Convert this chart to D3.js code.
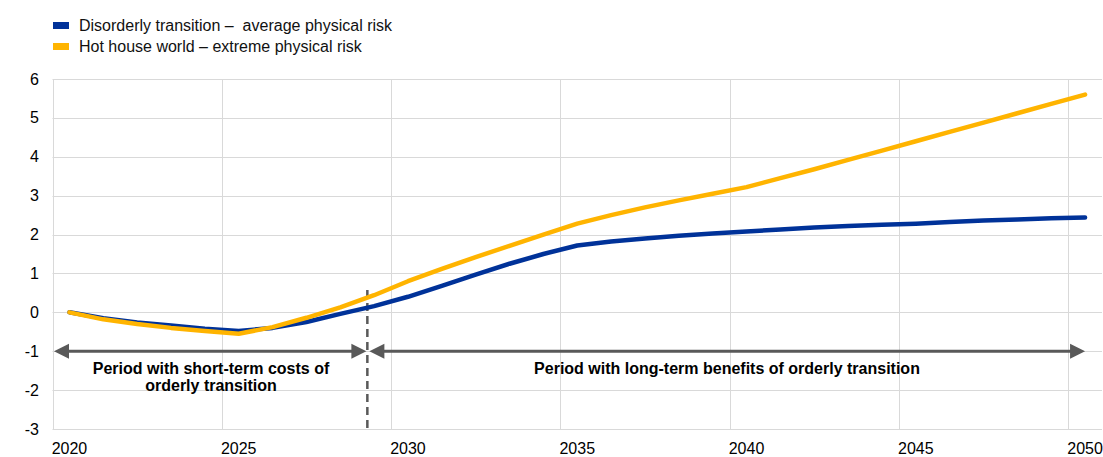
<html>
<head>
<script src="https://d3js.org/d3.v7.min.js"></script>
<style>
body { margin: 0; background: #fff; font-family: Arial, "Liberation Sans", sans-serif; }
line.grid { stroke: #d9d9d9; stroke-width: 1; }
text { fill: #000; }
</style>
</head>
<body>
<div id="chart"></div>
<script>

var years = d3.range(2020, 2051);
var tickYears = [2020, 2025, 2030, 2035, 2040, 2045, 2050];
var yTicks = [-3, -2, -1, 0, 1, 2, 3, 4, 5, 6];

var disorderly = [0, -0.15, -0.26, -0.34, -0.42, -0.48, -0.4, -0.25, -0.04, 0.16,
  0.4, 0.68, 0.97, 1.25, 1.5, 1.72, 1.82, 1.9, 1.97, 2.03,
  2.08, 2.13, 2.18, 2.22, 2.25, 2.28, 2.32, 2.36, 2.39, 2.42, 2.44];
var hotHouse = [0, -0.18, -0.3, -0.4, -0.48, -0.55, -0.38, -0.14, 0.13, 0.44,
  0.8, 1.12, 1.42, 1.71, 2.0, 2.28, 2.5, 2.7, 2.88, 3.05,
  3.22, 3.45, 3.68, 3.92, 4.16, 4.4, 4.64, 4.88, 5.12, 5.36, 5.6];

var seriesNames = ["Disorderly transition \u2013  average physical risk", "Hot house world \u2013 extreme physical risk"];
var seriesColors = ["#003299", "#ffb400"];

var splitYear = 2028.8;
var arrowY = -1;
var periodLabels = [["Period with short-term costs of", "orderly transition"],
  ["Period with long-term benefits of orderly transition"]];

var width = 1103, height = 457;
var plotLeft = 52.5, plotRight = 1102, plotTop = 79, plotBottom = 429;

var svg = d3.select("#chart").append("svg")
  .attr("width", width).attr("height", height);

var x = d3.scaleBand().domain(years).range([plotLeft, plotRight]).padding(0);
var bw = x.bandwidth();
// continuous position in "year" units, centred on the bands
function xv(v) { return x(2020) + bw / 2 + (v - 2020) * bw; }
var y = d3.scaleLinear().domain([-3, 6]).range([plotBottom, plotTop]);

// horizontal grid
svg.selectAll("line.hgrid").data(yTicks).enter().append("line")
  .attr("class", "grid")
  .attr("x1", plotLeft).attr("x2", plotRight)
  .attr("y1", function(d) { return Math.round(y(d)) + 0.5; })
  .attr("y2", function(d) { return Math.round(y(d)) + 0.5; });

// vertical grid at band boundaries every 5 years
svg.selectAll("line.vgrid").data(tickYears).enter().append("line")
  .attr("class", "grid")
  .attr("x1", function(d) { return Math.round(x(d)) + 0.5; })
  .attr("x2", function(d) { return Math.round(x(d)) + 0.5; })
  .attr("y1", plotTop).attr("y2", plotBottom);

// axis labels
svg.selectAll("text.ylab").data(yTicks).enter().append("text")
  .attr("x", 39).attr("y", function(d) { return y(d) + 5.5; })
  .attr("text-anchor", "end").style("font-size", "16px")
  .text(function(d) { return d; });

svg.selectAll("text.xlab").data(tickYears).enter().append("text")
  .attr("x", function(d) { return x(d) + bw / 2; }).attr("y", 454)
  .attr("text-anchor", "middle").style("font-size", "16px")
  .text(function(d) { return d; });

// arrows and split line
var arrowColor = "#595959";
function arrow(x1, x2) {
  var yy = y(arrowY), head = 15, half = 7.5;
  svg.append("line")
    .attr("x1", x1 + head - 2).attr("x2", x2 - head + 2)
    .attr("y1", yy).attr("y2", yy)
    .style("stroke", arrowColor).style("stroke-width", 3);
  svg.append("path")
    .attr("d", "M" + x1 + "," + yy + "L" + (x1 + head) + "," + (yy - half) + "L" + (x1 + head) + "," + (yy + half) + "Z")
    .style("fill", arrowColor);
  svg.append("path")
    .attr("d", "M" + x2 + "," + yy + "L" + (x2 - head) + "," + (yy - half) + "L" + (x2 - head) + "," + (yy + half) + "Z")
    .style("fill", arrowColor);
}
arrow(plotLeft + 1.5, xv(splitYear) - 1);
arrow(xv(splitYear) + 2, xv(2050));

svg.append("line")
  .attr("x1", xv(splitYear)).attr("x2", xv(splitYear))
  .attr("y1", 290).attr("y2", plotBottom + 1)
  .style("stroke", arrowColor).style("stroke-width", 2.5)
  .style("stroke-dasharray", "8,5");

// period labels
var labelCentres = [211, 727];
periodLabels.forEach(function(lines, i) {
  lines.forEach(function(t, j) {
    svg.append("text")
      .attr("x", labelCentres[i]).attr("y", y(arrowY) + 23 + j * 17)
      .attr("text-anchor", "middle")
      .style("font-size", "16px").style("font-weight", "bold")
      .text(t);
  });
});

// lines
var line = d3.line()
  .x(function(d, i) { return x(years[i]) + bw / 2; })
  .y(function(d) { return y(d); });

[disorderly, hotHouse].forEach(function(values, i) {
  svg.append("path")
    .datum(values)
    .attr("d", line)
    .style("fill", "none")
    .style("stroke", seriesColors[i])
    .style("stroke-width", 4.5)
    .style("stroke-linecap", "round")
    .style("stroke-linejoin", "round");
});

// legend
seriesNames.forEach(function(name, i) {
  var ly = 25.5 + i * 21;
  svg.append("rect")
    .attr("x", 53).attr("y", ly - 3.5).attr("width", 16).attr("height", 7)
    .style("fill", seriesColors[i]);
  svg.append("text")
    .attr("x", 79).attr("y", ly + 5.5)
    .style("font-size", "16px").style("fill", "#111")
    .style("white-space", "pre").attr("xml:space", "preserve")
    .text(name);
});

</script>
</body>
</html>
